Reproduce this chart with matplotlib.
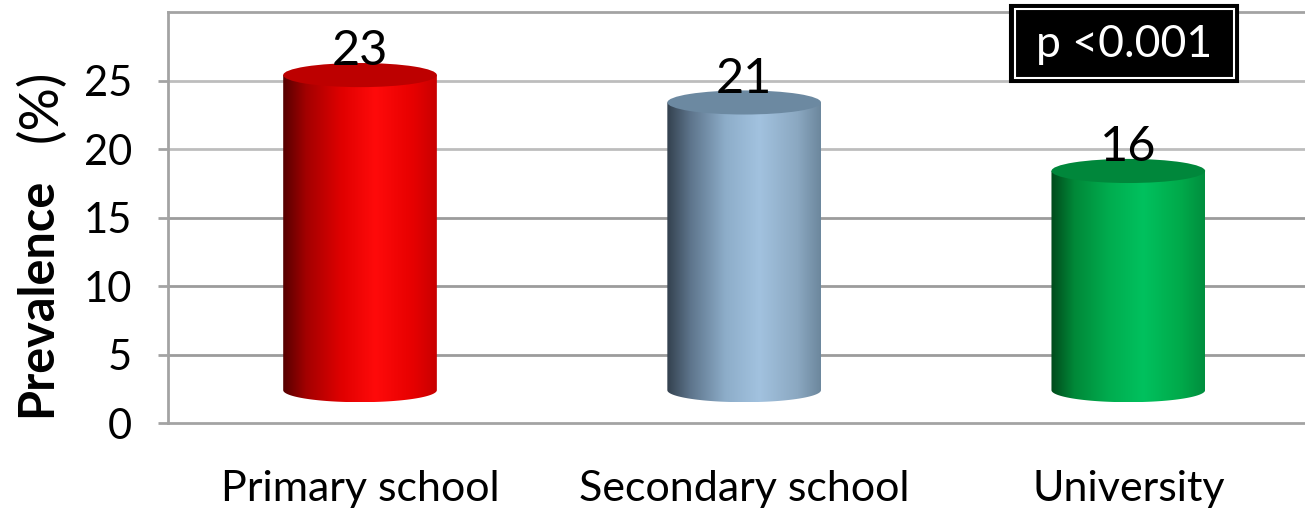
import numpy as np
import matplotlib.pyplot as plt
from matplotlib.colors import LinearSegmentedColormap
from matplotlib.patches import Ellipse, PathPatch, Rectangle
from matplotlib.path import Path

categories = ['Primary school', 'Secondary school', 'University']
prevalence = [23, 21, 16]
yticks = [0, 5, 10, 15, 20, 25]
p_text = 'p <0.001'

# left-to-right shading across each cylinder, plus the colour of its lid
side_colors = [
    ['#560000', '#a30000', '#e00000', '#ff0a0a', '#e60000', '#c80000'],
    ['#33414e', '#5d748b', '#8dadc9', '#a2c2df', '#8ba8c1', '#6c879d'],
    ['#004a1b', '#008838', '#00ad4f', '#00c15e', '#00a94a', '#008e3e'],
]
top_colors = ['#bd0000', '#6c89a1', '#00873b']

plt.rcParams['font.family'] = ['Lato', 'DejaVu Sans']

fig = plt.figure(figsize=(13.05, 5.15), dpi=100)
ax = fig.add_axes([0.1287, 0.1786, 0.8713, 0.798])

base = 2.4      # floor of the 3-D box
half_w = 0.2
eh = 0.88       # half height of the elliptical ends

for yt in yticks[1:]:
    ax.axhline(yt, color='#bdbdbd' if yt >= 20 else '#9c9c9c', lw=2, zorder=1)

for i, (val, cols, top) in enumerate(zip(prevalence, side_colors, top_colors)):
    x0, x1 = i - half_w, i + half_w
    y_top = base + val
    t = np.linspace(np.pi, 2 * np.pi, 80)
    arc = np.column_stack([i + half_w * np.cos(t), base + eh * np.sin(t)])
    verts = np.vstack([[x0, y_top], arc, [x1, y_top], [x0, y_top]])
    body = PathPatch(Path(verts), facecolor='none', edgecolor='none',
                     transform=ax.transData)
    ax.add_patch(body)
    cmap = LinearSegmentedColormap.from_list(
        'cyl%d' % i, list(zip([0, 0.15, 0.38, 0.6, 0.85, 1], cols)))
    im = ax.imshow(np.linspace(0, 1, 256).reshape(1, -1), cmap=cmap,
                   extent=[x0, x1, base - eh, y_top], aspect='auto',
                   interpolation='bilinear', zorder=3)
    im.set_clip_path(body)
    ax.add_patch(Ellipse((i, y_top), 2 * half_w, 2 * eh, facecolor=top,
                         edgecolor='none', zorder=4))
    ax.text(i, y_top + 0.7, str(val), ha='center', va='baseline',
            fontsize=35, zorder=5)

ax.set_xlim(-0.5, 2.46)
ax.set_ylim(0, 30)
ax.set_yticks(yticks)
ax.set_xticks(range(len(categories)))
ax.set_xticklabels(categories)
ax.tick_params(axis='y', length=7, width=2, color='#a3a3a3', pad=19,
               labelsize=30)
ax.tick_params(axis='x', length=0, pad=34, labelsize=31)

for side in ['left', 'bottom', 'top']:
    ax.spines[side].set_color('#a3a3a3')
    ax.spines[side].set_linewidth(2)
ax.spines['right'].set_visible(False)

fig.text(0.028, 0.423, 'Prevalence', rotation=90, ha='center', va='center',
         fontsize=35, fontweight='bold')
fig.text(0.031, 0.795, '(%)', rotation=90, ha='center', va='center',
         fontsize=39)

# significance box: black fill with a thin white inner frame
fig.add_artist(Rectangle((0.774, 0.841), 0.175, 0.149, transform=fig.transFigure,
                         facecolor='black', edgecolor='black', lw=1.5))
fig.add_artist(Rectangle((0.7775, 0.848), 0.168, 0.135, transform=fig.transFigure,
                         facecolor='black', edgecolor='white', lw=1.5))
fig.text(0.861, 0.913, p_text, color='white', ha='center', va='center',
         fontsize=32)

fig.savefig('out.png', dpi=100)
